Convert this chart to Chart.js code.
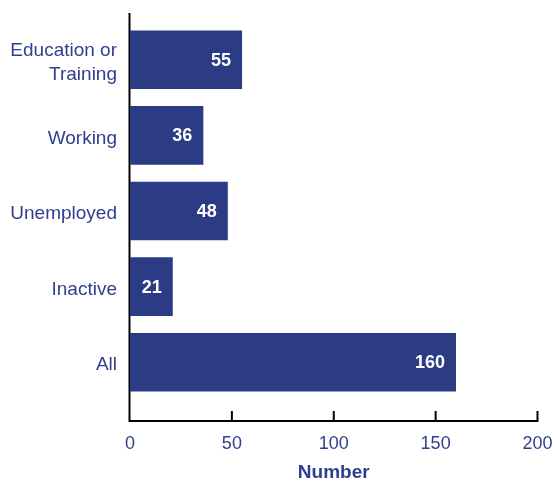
<!DOCTYPE html>
<html>
<head>
<meta charset="utf-8">
<script src="https://cdn.jsdelivr.net/npm/chart.js@4.4.1/dist/chart.umd.min.js"></script>
<style>
html,body{margin:0;padding:0;background:#fff;}
#wrap{width:556px;height:482px;position:relative;}
</style>
</head>
<body>
<div id="wrap"><canvas id="c" width="556" height="482"></canvas></div>
<script>
const categories = [["Education or", "Training"], "Working", "Unemployed", "Inactive", "All"];
const values = [55, 36, 48, 21, 160];
const xTicks = [0, 50, 100, 150, 200];
const xTitle = "Number";

const BAR = '#2b3c84';
const TEXT = '#2f3f8f';
const FONT = '"Liberation Sans", Arial, Helvetica, sans-serif';

const axisPlugin = {
  id: 'axisLines',
  beforeDatasetsDraw(chart) {
    const ctx = chart.ctx, x = chart.scales.x, ca = chart.chartArea;
    const yTop = 13, yBot = 421;
    ctx.save();
    ctx.strokeStyle = '#000';
    ctx.lineWidth = 2;
    ctx.beginPath();
    ctx.moveTo(ca.left - 0.5, yTop);
    ctx.lineTo(ca.left - 0.5, yBot + 1);
    ctx.moveTo(ca.left - 1.5, yBot);
    ctx.lineTo(x.getPixelForValue(xTicks[xTicks.length - 1]) + 1, yBot);
    xTicks.forEach(v => {
      const px = v === 0 ? ca.left - 0.5 : x.getPixelForValue(v);
      ctx.moveTo(px, yBot);
      ctx.lineTo(px, yBot - 10);
    });
    ctx.stroke();
    ctx.restore();
  },
  afterDatasetsDraw(chart) {
    const ctx = chart.ctx;
    const meta = chart.getDatasetMeta(0);
    ctx.save();
    ctx.fillStyle = '#fff';
    ctx.font = 'bold 18px ' + FONT;
    ctx.textAlign = 'right';
    ctx.textBaseline = 'middle';
    meta.data.forEach((bar, i) => {
      ctx.fillText(String(values[i]), bar.x - 11, bar.y + 1);
    });
    ctx.restore();
  }
};

new Chart(document.getElementById('c'), {
  type: 'bar',
  data: {
    labels: categories,
    datasets: [{
      data: values,
      backgroundColor: BAR,
      borderWidth: 0,
      barPercentage: 0.775,
      categoryPercentage: 1
    }]
  },
  options: {
    indexAxis: 'y',
    responsive: false,
    animation: false,
    devicePixelRatio: 1,
    layout: { padding: { top: 22, right: 18.5, left: 0, bottom: 0 } },
    plugins: { legend: { display: false }, tooltip: { enabled: false } },
    scales: {
      x: {
        type: 'linear',
        min: 0, max: 200,
        afterBuildTicks(s) { s.ticks = xTicks.map(v => ({ value: v })); },
        afterFit(s) { s.height = 82; s.paddingLeft = 0; s.paddingRight = 0; },
        grid: { display: false, drawTicks: false },
        border: { display: false },
        ticks: { color: TEXT, font: { family: FONT, size: 18 }, padding: 33, maxRotation: 0 },
        title: { display: true, text: xTitle, color: TEXT, font: { family: FONT, size: 19, weight: 'bold' }, padding: { top: 0, bottom: -2 } }
      },
      y: {
        afterFit(s) { s.width = 130; s.paddingTop = 0; s.paddingBottom = 0; },
        grid: { display: false, drawTicks: false },
        border: { display: false },
        ticks: { color: TEXT, font: { family: FONT, size: 19, lineHeight: 1.27 }, padding: 13, labelOffset: 3 }
      }
    }
  },
  plugins: [axisPlugin]
});
</script>
</body>
</html>
